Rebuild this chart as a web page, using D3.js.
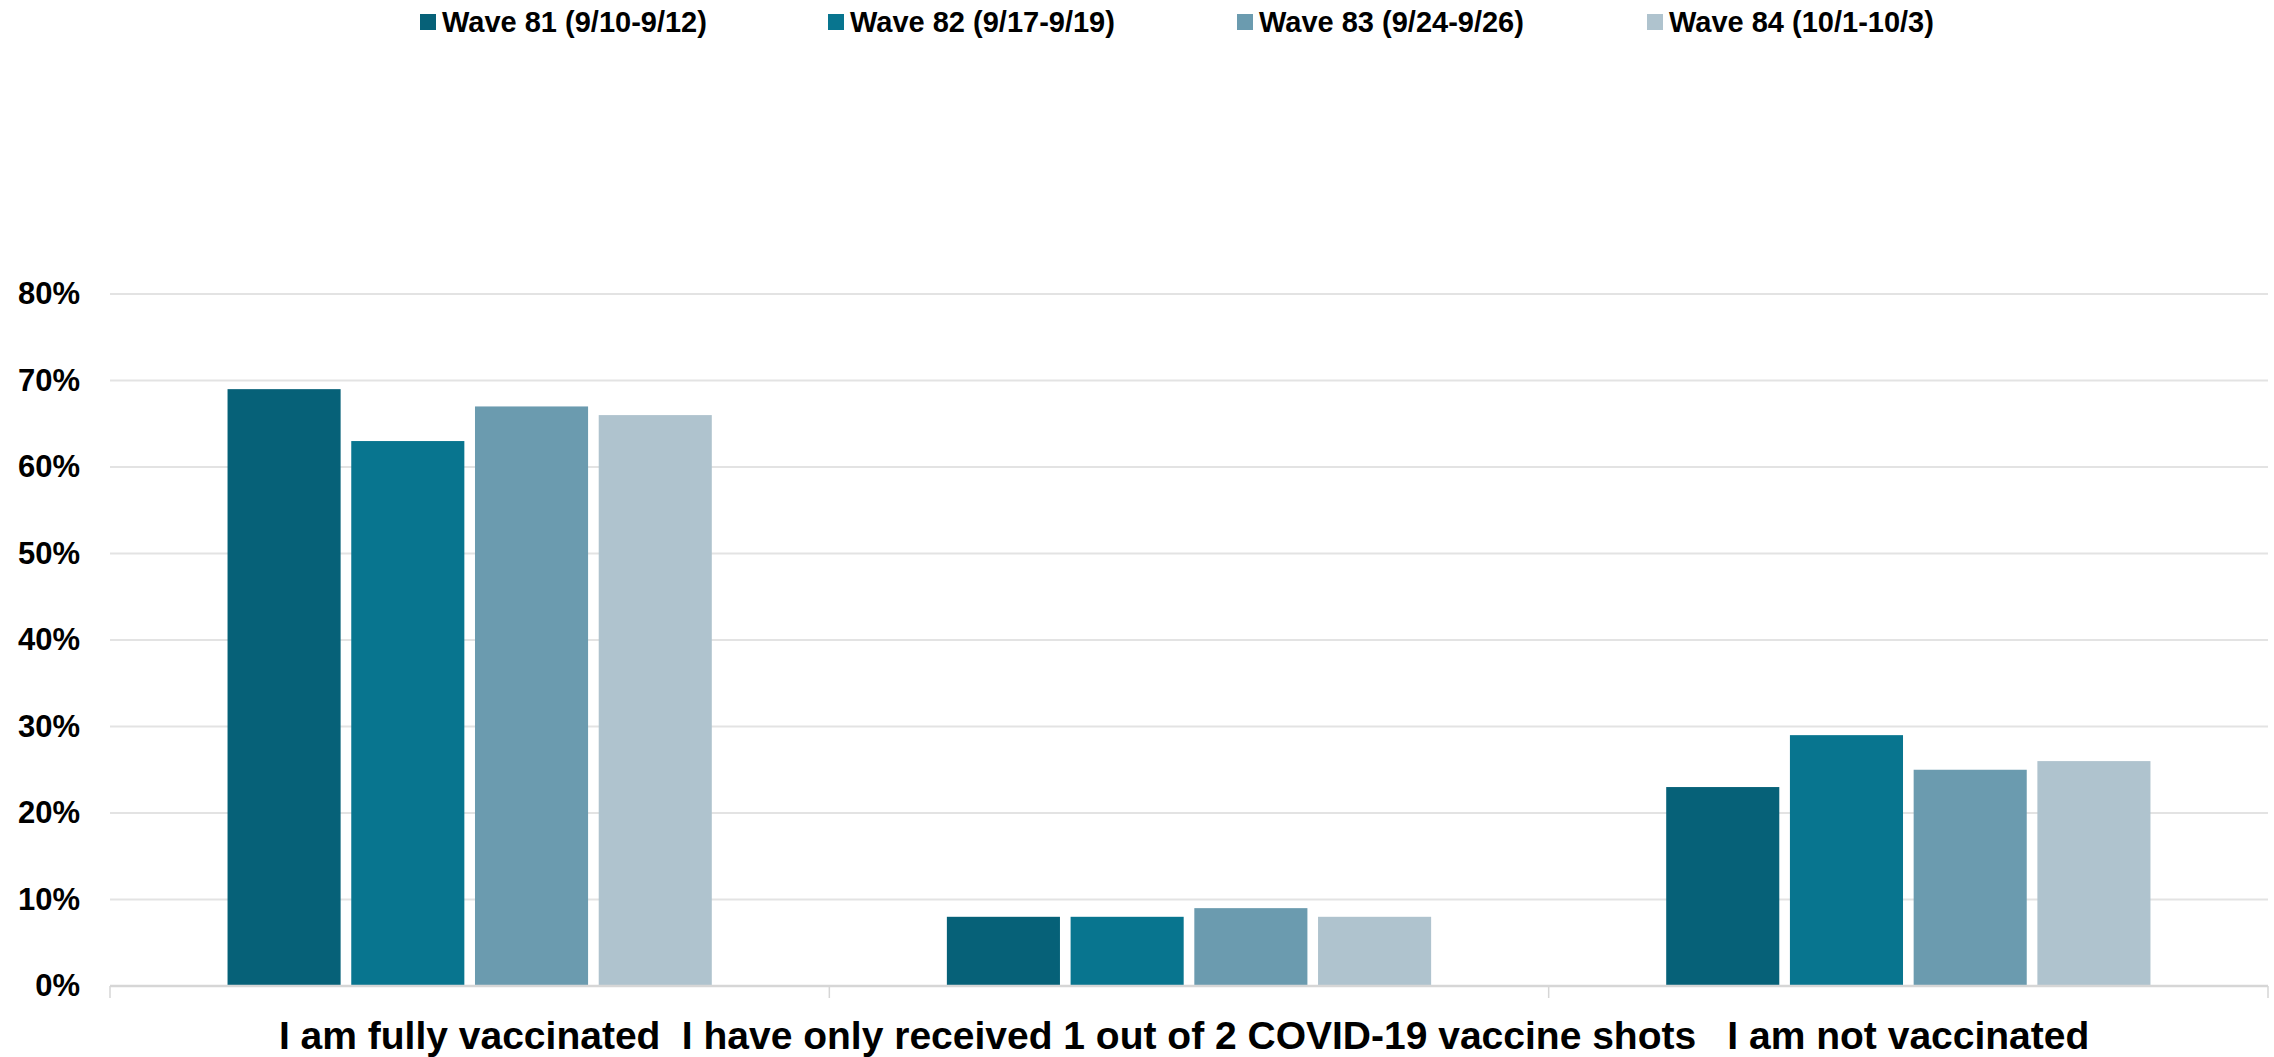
<!DOCTYPE html>
<html>
<head>
<meta charset="utf-8">
<script src="https://cdn.jsdelivr.net/npm/d3@7"></script>
<style>
  html, body { margin: 0; padding: 0; background: #fff; }
  svg { display: block; }
  text { font-family: "Liberation Sans", Arial, sans-serif; font-weight: 700; fill: #000; }
</style>
</head>
<body>
<svg id="chart" width="2274" height="1057"></svg>
<script>
// Vaccination status by survey wave
const categories = [
  "I am fully vaccinated",
  "I have only received 1 out of 2 COVID-19 vaccine shots",
  "I am not vaccinated"
];
const seriesNames = [
  "Wave 81 (9/10-9/12)",
  "Wave 82 (9/17-9/19)",
  "Wave 83 (9/24-9/26)",
  "Wave 84 (10/1-10/3)"
];
const wave81 = [69, 8, 23];
const wave82 = [63, 8, 29];
const wave83 = [67, 9, 25];
const wave84 = [66, 8, 26];
const yTicks = [0, 10, 20, 30, 40, 50, 60, 70, 80];
const colors = ["#066178", "#08758F", "#6B9BAF", "#AFC3CE"];

const seriesValues = [wave81, wave82, wave83, wave84];
const rows = [];
categories.forEach((c, ci) => {
  seriesNames.forEach((s, si) => rows.push({ cat: c, series: s, si, value: seriesValues[si][ci] }));
});

const svg = d3.select("#chart");
const plotLeft = 110, plotRight = 2268, plotTop = 294, plotBottom = 986;

const x0 = d3.scaleBand().domain(categories).range([plotLeft, plotRight]).padding(0);
const x1 = d3.scaleBand().domain(seriesNames).range([0, x0.bandwidth()])
  .paddingInner(0.086).paddingOuter(0.95);
const y = d3.scaleLinear().domain([0, 80]).range([plotBottom, plotTop]);
const color = d3.scaleOrdinal().domain(seriesNames).range(colors);

// horizontal gridlines
svg.append("g")
  .selectAll("line")
  .data(yTicks.filter(t => t > 0))
  .join("line")
  .attr("x1", plotLeft).attr("x2", plotRight)
  .attr("y1", d => y(d)).attr("y2", d => y(d))
  .attr("stroke", "#e3e3e3").attr("stroke-width", 2);

// y axis labels
const yAxis = d3.axisLeft(y).tickValues(yTicks).tickFormat(d => d + "%").tickSize(0).tickPadding(30);
const yg = svg.append("g").attr("transform", `translate(${plotLeft},0)`).call(yAxis);
yg.select(".domain").remove();
yg.selectAll("text").attr("font-size", 31).attr("fill", "#000")
  .style("font-family", "'Liberation Sans', Arial, sans-serif").style("font-weight", 700);

// bars
svg.append("g")
  .selectAll("rect")
  .data(rows)
  .join("rect")
  .attr("x", d => x0(d.cat) + x1(d.series))
  .attr("y", d => y(d.value))
  .attr("width", x1.bandwidth())
  .attr("height", d => y(0) - y(d.value))
  .attr("fill", d => color(d.series));

// x axis baseline with category boundary ticks
svg.append("line")
  .attr("x1", plotLeft).attr("x2", plotRight)
  .attr("y1", y(0)).attr("y2", y(0))
  .attr("stroke", "#d6d6d6").attr("stroke-width", 2.5);
const bounds = categories.map(c => x0(c)).concat([plotRight]);
svg.append("g").selectAll("line")
  .data(bounds)
  .join("line")
  .attr("x1", d => d).attr("x2", d => d)
  .attr("y1", y(0)).attr("y2", y(0) + 12)
  .attr("stroke", "#d6d6d6").attr("stroke-width", 1.5);

// category labels
svg.append("g").selectAll("text")
  .data(categories)
  .join("text")
  .attr("x", d => x0(d) + x0.bandwidth() / 2)
  .attr("y", 1049)
  .attr("text-anchor", "middle")
  .attr("font-size", 39)
  .text(d => d);

// legend
const legendX = [420, 828, 1237, 1647];
const lg = svg.append("g").selectAll("g")
  .data(seriesNames)
  .join("g")
  .attr("transform", (d, i) => `translate(${legendX[i]},22)`);
lg.append("rect")
  .attr("x", 0).attr("y", -8).attr("width", 16).attr("height", 16)
  .attr("fill", d => color(d));
lg.append("text")
  .attr("x", 22).attr("y", 10)
  .attr("font-size", 29)
  .text(d => d);
</script>
</body>
</html>
